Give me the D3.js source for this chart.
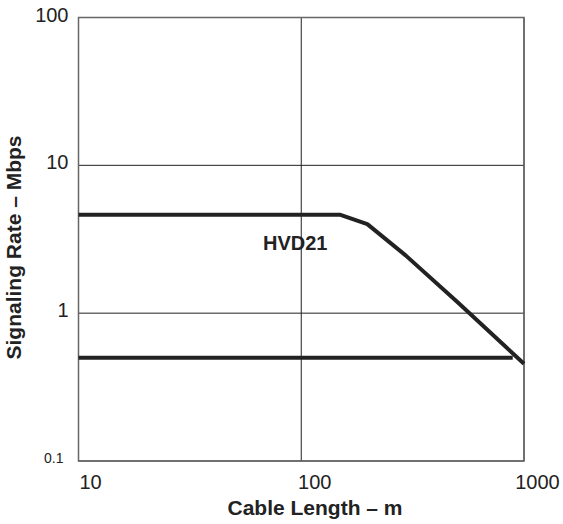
<!DOCTYPE html>
<html>
    <head>
        <style>
         body { margin: 0; background: #fff; }
         text { font-family: "Liberation Sans", Arial, sans-serif; fill: #222; }
        </style>
        <script src="https://d3js.org/d3.v7.min.js"></script>
    </head>
    <body>
        <svg id="chart" width="563" height="524"></svg>
        <script>
         // data
         var upperLength = [10, 150, 198, 295, 505, 1000];
         var upperRate   = [4.63, 4.63, 4.0, 2.45, 1.18, 0.455];
         var lowerLength = [10, 890];
         var lowerRate   = [0.5, 0.5];
         var xTicks = [10, 100, 1000];
         var yTicks = [0.1, 1, 10, 100];
         var seriesLabel = "HVD21";

         var svg = d3.select("#chart"),
             margin = {top: 17.5, right: 39, bottom: 63, left: 78.5},
             width = 563 - margin.left - margin.right,
             height = 524 - margin.top - margin.bottom;

         var x = d3.scaleLog().domain([10, 1000]).range([0, width]),
             y = d3.scaleLog().domain([0.1, 100]).range([height, 0]);

         var g = svg.append("g")
                    .attr("transform", "translate(" + margin.left + "," + margin.top + ")");

         // grid
         g.selectAll(".vgrid").data(xTicks).enter().append("line")
          .attr("x1", function(d) { return x(d); }).attr("x2", function(d) { return x(d); })
          .attr("y1", 0).attr("y2", height)
          .attr("stroke", "#222").attr("stroke-width", 1);
         g.selectAll(".hgrid").data(yTicks).enter().append("line")
          .attr("y1", function(d) { return y(d); }).attr("y2", function(d) { return y(d); })
          .attr("x1", 0).attr("x2", width)
          .attr("stroke", "#222").attr("stroke-width", 1);

         // frame
         g.append("rect").attr("width", width).attr("height", height)
          .attr("fill", "none").attr("stroke", "#666").attr("stroke-width", 1.5);

         // x tick labels, sitting a bit right of their ticks like the original
         g.append("g")
          .attr("transform", "translate(0," + height + ")")
          .call(d3.axisBottom(x).tickValues(xTicks).tickFormat(d3.format("d")).tickSize(0).tickPadding(0))
          .call(function(a) { a.select(".domain").remove(); })
          .selectAll("text")
          .attr("dx", function(d) { return d === 10 ? 11.5 : 13; })
          .attr("y", 28)
          .attr("dy", 0)
          .attr("font-size", 20)
          .attr("fill", "#222");

         // y tick labels
         g.append("g")
          .call(d3.axisLeft(y).tickValues(yTicks).tickFormat(function(d) { return d < 1 ? d3.format(".1f")(d) : d3.format("d")(d); }).tickSize(0).tickPadding(10))
          .call(function(a) { a.select(".domain").remove(); })
          .selectAll("text")
          .attr("font-size", function(d) { return d < 1 ? 14 : 20; })
          .attr("dx", function(d) { return d < 1 ? -5 : 0; })
          .attr("dy", function(d) { return d === 100 ? "0.18em" : (d < 1 ? "0.1em" : "0.18em"); })
          .attr("fill", "#222");

         var line = d3.line()
                      .x(function(d) { return x(d[0]); })
                      .y(function(d) { return y(d[1]); });

         [[upperLength, upperRate], [lowerLength, lowerRate]].forEach(function(s) {
             g.append("path")
              .datum(d3.zip(s[0], s[1]))
              .attr("d", line)
              .attr("fill", "none")
              .attr("stroke", "#222")
              .attr("stroke-width", 4)
              .attr("stroke-linejoin", "round");
         });

         g.append("text")
          .attr("x", x(94)).attr("y", y(2.68))
          .attr("text-anchor", "middle")
          .attr("font-size", 20).attr("font-weight", "bold")
          .text(seriesLabel);

         svg.append("text")
            .attr("x", 315).attr("y", 515)
            .attr("text-anchor", "middle")
            .attr("font-size", 21).attr("font-weight", "bold")
            .text("Cable Length – m");

         svg.append("text")
            .attr("transform", "translate(21,247.5) rotate(-90)")
            .attr("text-anchor", "middle")
            .attr("font-size", 21).attr("font-weight", "bold")
            .text("Signaling Rate – Mbps");
        </script>
    </body>
</html>
